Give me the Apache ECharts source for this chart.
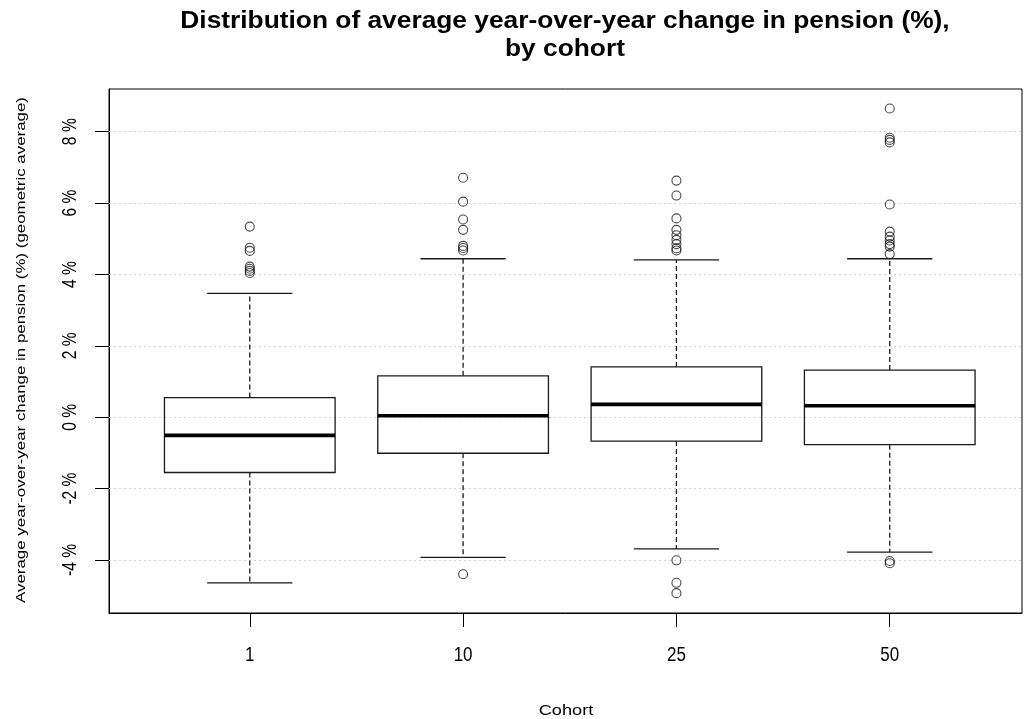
<!DOCTYPE html>
<html>
<head>
<meta charset="utf-8">
<script src="https://cdn.jsdelivr.net/npm/echarts@6/dist/echarts.min.js"></script>
<style>
  html, body { margin: 0; padding: 0; background: #ffffff; }
  #chart { width: 1025px; height: 719px; }
</style>
</head>
<body>
<div id="chart"></div>
<script>
// Cohorts shown along the x axis
const cohorts = ['1', '10', '25', '50'];

// Five-number summaries per cohort (%): lower whisker, Q1, median, Q3, upper whisker
const lowerWhisker = [-4.64, -3.93, -3.69, -3.78];
const q1Values     = [-1.55, -1.01, -0.67, -0.77];
const medians      = [-0.51,  0.04,  0.36,  0.32];
const q3Values     = [ 0.55,  1.16,  1.41,  1.32];
const upperWhisker = [ 3.47,  4.44,  4.41,  4.44];

// Outlying values per cohort (%)
const outliers1  = [5.34, 4.75, 4.66, 4.22, 4.16, 4.10, 4.04];
const outliers10 = [6.71, 6.04, 5.54, 5.25, 4.80, 4.74, 4.67, -4.40];
const outliers25 = [6.63, 6.21, 5.57, 5.25, 5.10, 4.97, 4.85, 4.73, 4.67, -4.01, -4.64, -4.93];
const outliers50 = [8.65, 7.83, 7.77, 7.70, 5.96, 5.20, 5.06, 4.95, 4.85, 4.78, 4.57, -4.03, -4.09];

// Y axis tick values (%)
const yTicks = [-4, -2, 0, 2, 4, 6, 8];

const TITLE = 'Distribution of average year-over-year change in pension (%),\nby cohort';
const X_NAME = 'Cohort';
const Y_NAME = 'Average year-over-year change in pension (%) (geometric average)';

// Axis extents
const X_MIN = 0.34, X_MAX = 4.62;
const Y_MIN = -5.486, Y_MAX = 9.196;

const FONT = '"Liberation Sans", Arial, sans-serif';
const BOX_WIDTH = 0.8;

const boxData = cohorts.map((c, i) => [i + 1, lowerWhisker[i], q1Values[i], medians[i], q3Values[i], upperWhisker[i]]);
const outlierData = [];
[outliers1, outliers10, outliers25, outliers50].forEach((list, i) => {
  list.forEach(v => outlierData.push([i + 1, v]));
});

// Box, dashed whiskers with short caps, and a heavy median bar
function renderBox(params, api) {
  const x = api.value(0);
  const lo = api.coord([x, api.value(1)]);
  const q1 = api.coord([x, api.value(2)]);
  const md = api.coord([x, api.value(3)]);
  const q3 = api.coord([x, api.value(4)]);
  const hi = api.coord([x, api.value(5)]);
  const half = api.size([BOX_WIDTH, 0])[0] / 2;
  const cap = half / 2;
  const cx = lo[0];
  const solid = { stroke: '#1a1a1a', lineWidth: 1.3, fill: null };
  const dashed = { stroke: '#1a1a1a', lineWidth: 1.3, lineDash: [5, 3] };
  return {
    type: 'group',
    children: [
      { type: 'line', shape: { x1: cx, y1: q3[1], x2: cx, y2: hi[1] }, style: dashed },
      { type: 'line', shape: { x1: cx, y1: q1[1], x2: cx, y2: lo[1] }, style: dashed },
      { type: 'line', shape: { x1: cx - cap, y1: hi[1], x2: cx + cap, y2: hi[1] }, style: solid },
      { type: 'line', shape: { x1: cx - cap, y1: lo[1], x2: cx + cap, y2: lo[1] }, style: solid },
      { type: 'rect', shape: { x: cx - half, y: q3[1], width: half * 2, height: q1[1] - q3[1] }, style: solid },
      { type: 'line', shape: { x1: cx - half, y1: md[1], x2: cx + half, y2: md[1] }, style: { stroke: '#000', lineWidth: 3.6 } }
    ]
  };
}

// Tick labels, placed from the axis scales
function renderXTickLabel(params, api) {
  const p = api.coord([api.value(0), Y_MIN]);
  return {
    type: 'text', x: p[0], y: p[1] + 42, scaleX: 0.85,
    style: { text: cohorts[params.dataIndex], align: 'center', verticalAlign: 'middle', font: '20px ' + FONT, fill: '#000' }
  };
}
function renderYTickLabel(params, api) {
  const p = api.coord([X_MIN, api.value(1)]);
  return {
    type: 'text', x: p[0] - 39, y: p[1], rotation: Math.PI / 2, scaleX: 0.78,
    style: { text: yTicks[params.dataIndex] + ' %', align: 'center', verticalAlign: 'middle', font: '20px ' + FONT, fill: '#000' }
  };
}

const chart = echarts.init(document.getElementById('chart'), null, { renderer: 'canvas' });
chart.setOption({
  backgroundColor: '#ffffff',
  animation: false,
  // Title and axis titles are drawn as wide-set text
  graphic: [
    {
      type: 'text', x: 565, y: 8, scaleX: 1.12, scaleY: 1,
      style: {
        text: TITLE, align: 'center', verticalAlign: 'top',
        font: 'bold 23.5px ' + FONT, lineHeight: 28, fill: '#000'
      }
    },
    {
      type: 'text', x: 566, y: 711, scaleX: 1.3, scaleY: 1,
      style: { text: X_NAME, align: 'center', verticalAlign: 'middle', font: '14px ' + FONT, fill: '#000' }
    },
    {
      type: 'text', x: 21, y: 350, rotation: Math.PI / 2, scaleX: 1.3, scaleY: 1,
      style: { text: Y_NAME, align: 'center', verticalAlign: 'middle', font: '13px ' + FONT, fill: '#000' }
    }
  ],
  grid: {
    left: 109, right: 3, top: 89, bottom: 106,
    show: true, borderColor: '#000', borderWidth: 1, backgroundColor: 'transparent'
  },
  xAxis: {
    type: 'value',
    min: X_MIN, max: X_MAX,
    axisLine: { show: true, onZero: false, lineStyle: { color: '#000', width: 1 } },
    axisTick: { show: true, inside: false, length: 14, customValues: [1, 2, 3, 4], lineStyle: { color: '#000' } },
    axisLabel: { show: false },
    splitLine: { show: false }
  },
  yAxis: {
    type: 'value',
    min: Y_MIN, max: Y_MAX,
    axisLine: { show: true, onZero: false, lineStyle: { color: '#000', width: 1 } },
    axisTick: { show: true, inside: false, length: 14, customValues: yTicks, lineStyle: { color: '#000' } },
    axisLabel: { show: false },
    splitLine: { show: false }
  },
  series: [
    {
      type: 'custom',
      renderItem: renderBox,
      data: boxData,
      encode: { x: 0, y: [1, 2, 3, 4, 5] },
      z: 3
    },
    {
      type: 'scatter',
      data: outlierData,
      symbol: 'circle',
      symbolSize: 9,
      itemStyle: { color: 'rgba(255,255,255,0)', borderColor: '#1a1a1a', borderWidth: 1.1 },
      z: 4,
      markLine: {
        silent: true,
        symbol: 'none',
        label: { show: false },
        lineStyle: { color: '#d3d3d3', type: [2, 3], width: 1 },
        data: yTicks.map(v => ({ yAxis: v })),
        z: 1
      }
    },
    {
      type: 'custom',
      renderItem: renderXTickLabel,
      data: cohorts.map((c, i) => [i + 1, Y_MIN]),
      clip: false,
      silent: true
    },
    {
      type: 'custom',
      renderItem: renderYTickLabel,
      data: yTicks.map(v => [X_MIN, v]),
      clip: false,
      silent: true
    }
  ]
});
</script>
</body>
</html>
